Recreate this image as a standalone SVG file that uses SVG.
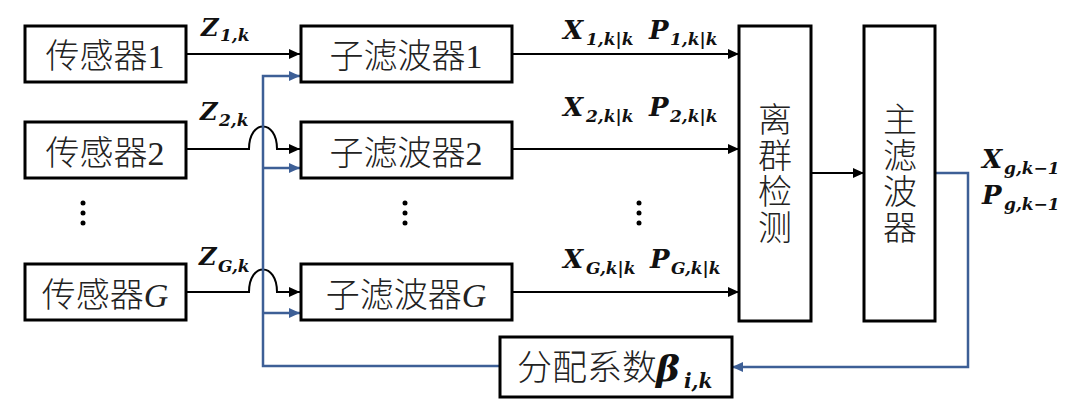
<svg xmlns="http://www.w3.org/2000/svg" width="1080" height="415" viewBox="0 0 1080 415">
<style>
.box{fill:#fff;stroke:#000;stroke-width:3}
.cn{font-family:"Liberation Serif","Noto Sans CJK SC",serif;font-size:34px;font-weight:300;fill:#222}
.it{font-style:italic}
.m{font-family:"DejaVu Serif","Liberation Serif",serif;font-weight:bold;font-style:italic;fill:#111}
.big{font-size:26px}
.sub{font-size:17px}
.zb{font-size:24px}
.k{fill:none;stroke:#000;stroke-width:2}
.b{fill:none;stroke:#3d5f96;stroke-width:2.5}
.dot{fill:#000}
</style>
<defs>
<marker id="ak" markerUnits="userSpaceOnUse" markerWidth="12" markerHeight="10" refX="11" refY="5" orient="auto"><path d="M0,0 L11,5 L0,10 z" fill="#000"/></marker>
<marker id="ab" markerUnits="userSpaceOnUse" markerWidth="12" markerHeight="10" refX="11" refY="5" orient="auto"><path d="M0,0 L11,5 L0,10 z" fill="#3d5f96"/></marker>
</defs>
<rect width="1080" height="415" fill="#fff"/>

<g id="connectors">
<path class="k" d="M186,54 H300" marker-end="url(#ak)"/>
<path class="k" d="M187,149 H249 C249,119 277,119 277,149 H300" marker-end="url(#ak)"/>
<path class="k" d="M186,292 H249 C249,262 277,262 277,292 H300" marker-end="url(#ak)"/>
<path class="k" d="M512,54 H739" marker-end="url(#ak)"/>
<path class="k" d="M512,149 H739" marker-end="url(#ak)"/>
<path class="k" d="M512,292 H739" marker-end="url(#ak)"/>
<path class="k" d="M811,173 H864" marker-end="url(#ak)"/>
<path class="b" d="M935,173 H968 V367 H732" marker-end="url(#ab)"/>
<path class="b" d="M500,366 H263 V76 H300" marker-end="url(#ab)"/>
<path class="b" d="M263,168 H300" marker-end="url(#ab)"/>
<path class="b" d="M263,313 H300" marker-end="url(#ab)"/>
</g>

<g id="sensor1"><rect class="box" x="25" y="26" width="161" height="56"/><text class="cn" x="105" y="68" text-anchor="middle">传感器1</text></g>
<g id="sensor2"><rect class="box" x="25" y="122" width="161" height="56"/><text class="cn" x="105" y="165" text-anchor="middle">传感器2</text></g>
<g id="sensorG"><rect class="box" x="25" y="264" width="161" height="56"/><text class="cn" x="105" y="307" text-anchor="middle">传感器<tspan class="it">G</tspan></text></g>

<g id="filter1"><rect class="box" x="301" y="26" width="211" height="56"/><text class="cn" x="406" y="68" text-anchor="middle">子滤波器1</text></g>
<g id="filter2"><rect class="box" x="301" y="122" width="211" height="56"/><text class="cn" x="406" y="165" text-anchor="middle">子滤波器2</text></g>
<g id="filterG"><rect class="box" x="301" y="264" width="211" height="56"/><text class="cn" x="406" y="307" text-anchor="middle">子滤波器<tspan class="it">G</tspan></text></g>

<g id="outlier"><rect class="box" x="739" y="26" width="72" height="295"/>
<text class="cn" text-anchor="middle"><tspan x="775" y="132">离</tspan><tspan x="775" y="168">群</tspan><tspan x="775" y="204">检</tspan><tspan x="775" y="240">测</tspan></text></g>

<g id="master"><rect class="box" x="864" y="26" width="71" height="295"/>
<text class="cn" text-anchor="middle"><tspan x="900" y="132">主</tspan><tspan x="900" y="168">滤</tspan><tspan x="900" y="204">波</tspan><tspan x="900" y="240">器</tspan></text></g>

<g id="alloc"><rect class="box" x="500" y="337" width="232" height="60"/>
<text class="cn" x="517" y="380" style="font-size:35px">分配系数</text>
<text class="m" x="656" y="381" style="font-size:36px">β</text>
<text class="m" x="684" y="388" style="font-size:20px">i,k</text></g>

<g id="labels">
<text class="m zb" x="201" y="36">Z</text><text class="m sub" x="220" y="41">1,k</text>
<text class="m zb" x="200" y="120">Z</text><text class="m sub" x="219" y="126">2,k</text>
<text class="m zb" x="199" y="265">Z</text><text class="m sub" x="218" y="272">G,k</text>

<text class="m big" x="563" y="39">X</text><text class="m sub" x="586" y="45">1,k|k</text>
<text class="m big" x="649" y="39">P</text><text class="m sub" x="670" y="45">1,k|k</text>
<text class="m big" x="563" y="116">X</text><text class="m sub" x="586" y="122">2,k|k</text>
<text class="m big" x="649" y="116">P</text><text class="m sub" x="670" y="122">2,k|k</text>
<text class="m big" x="563" y="268">X</text><text class="m sub" x="586" y="274">G,k|k</text>
<text class="m big" x="650" y="268">P</text><text class="m sub" x="671" y="274">G,k|k</text>

<text class="m big" x="982" y="168">X</text><text class="m sub" x="1004" y="174">g,k−1</text>
<text class="m big" x="982" y="204">P</text><text class="m sub" x="1004" y="210">g,k−1</text>
</g>

<g id="dots">
<circle class="dot" cx="83" cy="203" r="2.5"/><circle class="dot" cx="83" cy="213" r="2.5"/><circle class="dot" cx="83" cy="223" r="2.5"/>
<circle class="dot" cx="405" cy="203" r="2.5"/><circle class="dot" cx="405" cy="213" r="2.5"/><circle class="dot" cx="405" cy="223" r="2.5"/>
<circle class="dot" cx="639" cy="203" r="2.5"/><circle class="dot" cx="639" cy="213" r="2.5"/><circle class="dot" cx="639" cy="223" r="2.5"/>
</g>
</svg>
